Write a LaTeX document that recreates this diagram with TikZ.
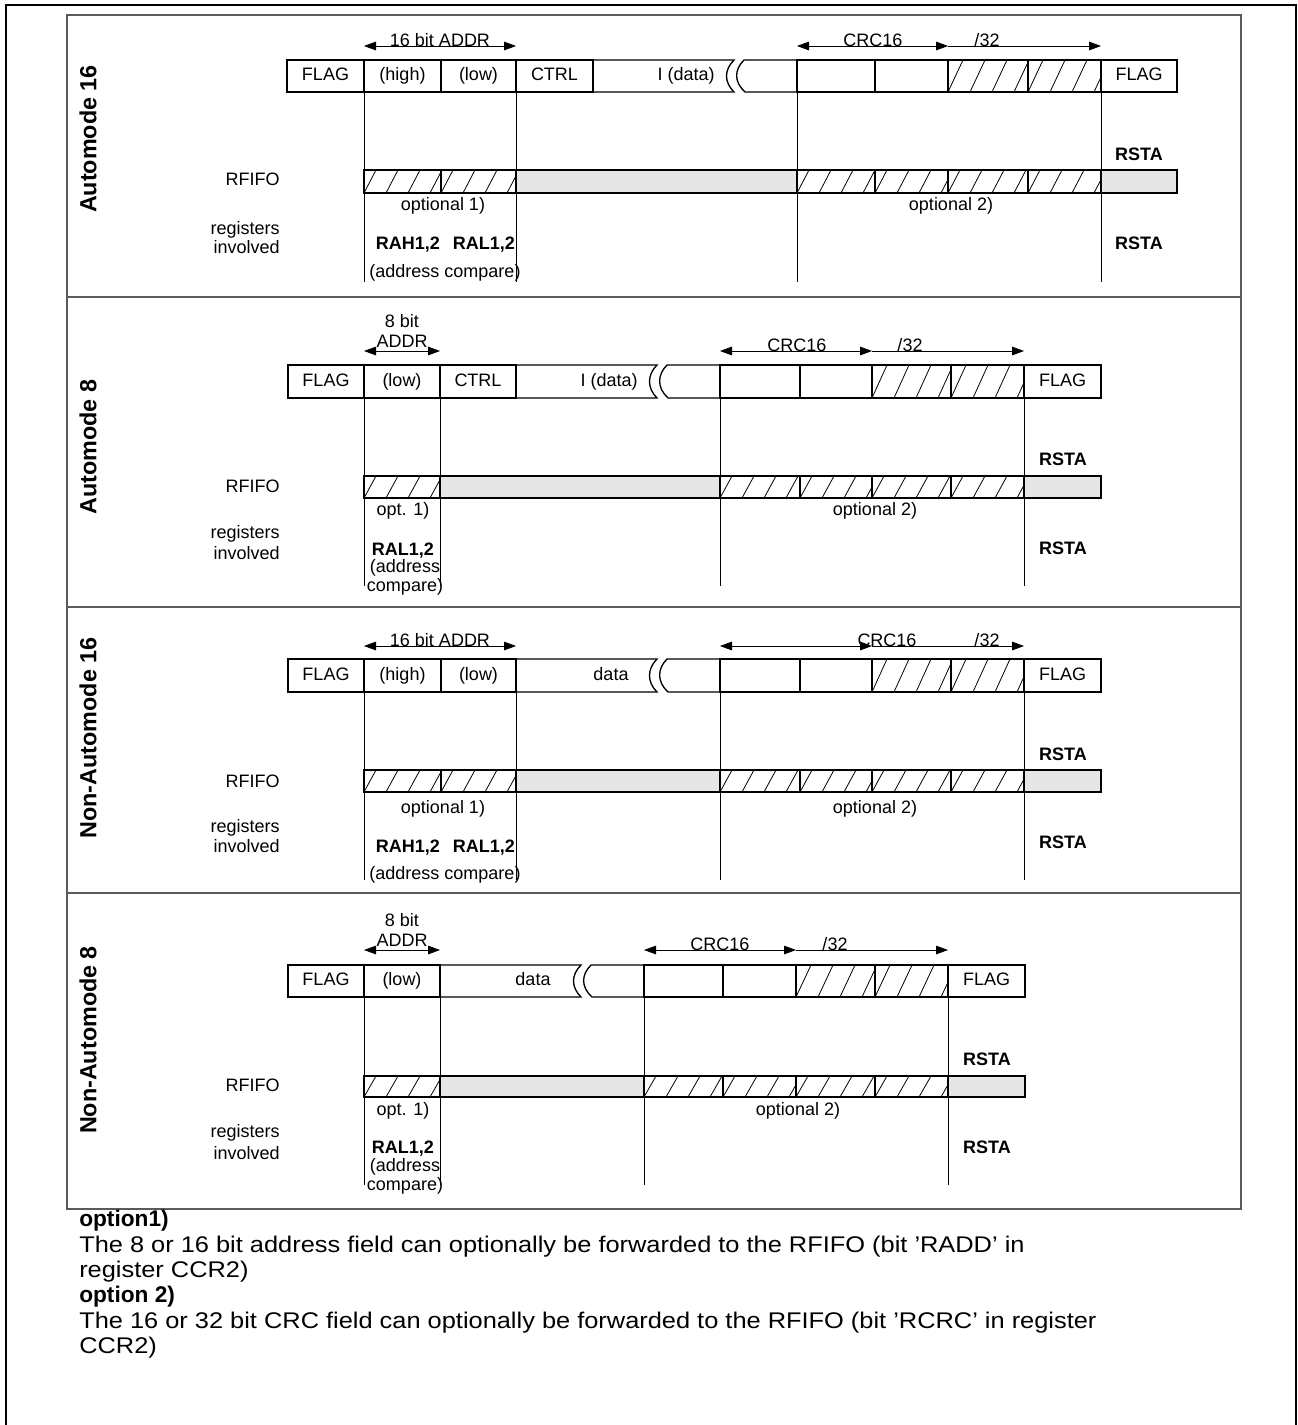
\documentclass[tikz,border=0pt]{standalone}
\usepackage{fontspec}
\setmainfont{Liberation Sans}
\newfontfamily\notefont[FakeStretch=1.12]{Liberation Sans}
\usetikzlibrary{arrows.meta}
\definecolor{barfill}{HTML}{E6E6E6}
\definecolor{sepgray}{HTML}{5A5A5A}
\newcommand{\fs}{\fontsize{13.5pt}{16pt}\selectfont}
\newcommand{\fsb}{\fontsize{17.5pt}{20pt}\selectfont\bfseries}
\newcommand{\fsn}{\fontsize{17pt}{19pt}\selectfont}
\tikzset{
  boxline/.style={line width=1pt},
  guide/.style={line width=0.75pt},
  hatchline/.style={line width=0.6pt},
  dimarrow/.style={line width=0.6pt, arrows={Triangle[length=9pt,width=6.5pt]-Triangle[length=9pt,width=6.5pt]}},
  dimarrowr/.style={line width=0.6pt, arrows={-Triangle[length=9pt,width=6.5pt]}},
  txt/.style={inner sep=0pt, text height=0.716em, text depth=0pt, font=\fs},
  txtb/.style={txt, font=\fs\bfseries},
  lbl/.style={inner sep=0pt, anchor=base, font=\fs},
  side/.style={inner sep=0pt, anchor=east, text height=0.716em, text depth=0pt, font=\fs},
  mode/.style={inner sep=0pt, rotate=90, font=\fsb},
  note/.style={inner sep=0pt, anchor=base west, font=\notefont\fsn},
  notehead/.style={inner sep=0pt, anchor=base west, font=\fsn\bfseries},
}
% hatched cell: x1 ytop x2 ybottom dx
\newcommand{\hatchcell}[5]{%
  \fill[white] (#1,#2) rectangle (#3,#4);
  \begin{scope}
    \clip (#1,#2) rectangle (#3,#4);
    \foreach \k in {0,...,4} {
      \draw[hatchline] ({#1+\k*22},#4) -- ++(#5,{#2-#4});
    }
  \end{scope}
  \draw[boxline] (#1,#2) rectangle (#3,#4);
}
\newcommand{\graycell}[4]{\draw[boxline, fill=barfill] (#1,#2) rectangle (#3,#4);}
\newcommand{\plaincell}[4]{\draw[boxline] (#1,#2) rectangle (#3,#4);}
% break: xl X xr top bottom
\newcommand{\breakrow}[5]{%
  \draw[boxline] (#1,#4) -- (#2,#4) .. controls ({#2-10},{#4+10}) and ({#2-10},{#5-10}) .. (#2,#5) -- (#1,#5);
  \draw[boxline] (#3,#4) -- ({#2+10},#4) .. controls ({#2},{#4+10}) and ({#2},{#5-10}) .. ({#2+11},#5) -- (#3,#5);
}
\begin{document}
\begin{tikzpicture}[x=0.75pt,y=-0.75pt]
\useasboundingbox (0,0) rectangle (1298,1425);
% frames
\draw[line width=1.6pt] (6,1425) -- (6,5) -- (1296,5) -- (1296,1425);
\draw[line width=1pt, sepgray] (67,15) rectangle (1241,1209);
\foreach \yy in {297,607,893} \draw[line width=1pt, sepgray] (67,\yy) -- (1241,\yy);

% ================= Panel 1: Automode 16
\node[mode] (m1) at (88,139) {Automode 16};
\foreach \xx in {364,516,797,1101} \draw[guide] (\xx,92) -- (\xx,282);
\plaincell{287}{60}{364}{92}
\plaincell{364}{60}{441}{92}
\plaincell{441}{60}{516}{92}
\plaincell{516}{60}{593}{92}
\breakrow{593}{734}{797}{60}{92}
\plaincell{797}{60}{875}{92}
\plaincell{875}{60}{948}{92}
\hatchcell{948}{60}{1028}{92}{15}
\hatchcell{1028}{60}{1101}{92}{15}
\plaincell{1101}{60}{1177}{92}
\node[txt] (p1flag) at (325.5,76) {FLAG};
\node[txt] (p1high) at (402.5,76) {(high)};
\node[txt] (p1low) at (478.5,76) {(low)};
\node[txt] (p1ctrl) at (554.5,76) {CTRL};
\node[txt, anchor=east] (p1data) at (715,76) {I (data)};
\node[txt] (p1flag2) at (1139,76) {FLAG};
\hatchcell{364}{170}{441}{193}{12}
\hatchcell{441}{170}{516}{193}{12}
\graycell{516}{170}{797}{193}
\hatchcell{797}{170}{875}{193}{12}
\hatchcell{875}{170}{948}{193}{12}
\hatchcell{948}{170}{1028}{193}{12}
\hatchcell{1028}{170}{1101}{193}{12}
\graycell{1101}{170}{1177}{193}
\coordinate (p1a) at (364,46); \coordinate (p1b) at (516,46);
\coordinate (p1c) at (797,46); \coordinate (p1d) at (948,46); \coordinate (p1e) at (1101,46);
\draw[dimarrow] (p1a) -- (p1b);
\draw[dimarrow] (p1c) -- (p1d);
\draw[dimarrowr] (p1d) -- (p1e);
\node[lbl] (p1addr) at (440,46) {16 bit ADDR};
\node[lbl] (p1crc) at (873,46) {CRC16};
\node[lbl] (p1c32) at (987,46) {/32};
\node[side] (p1rfifo) at (280,181) {RFIFO};
\node[side] (p1reg) at (280,230) {registers};
\node[side] (p1inv) at (280,249) {involved};
\node[txtb] (p1rsta) at (1139,156) {RSTA};
\node[txtb] (p1rsta2) at (1139,245) {RSTA};
\node[txt] (p1o1) at (443,206) {optional 1)};
\node[txt] (p1o2) at (951,206) {optional 2)};
\node[txtb] (p1rah) at (408,245) {RAH1,2};
\node[txtb] (p1ral) at (484,245) {RAL1,2};
\node[txt] (p1ac) at (445,273) {(address compare)};

% ================= Panel 2: Automode 8
\node[mode] (m2) at (88,447) {Automode 8};
\foreach \xx in {364,440,720,1024} \draw[guide] (\xx,398) -- (\xx,586);
\plaincell{288}{365}{364}{398}
\plaincell{364}{365}{440}{398}
\plaincell{440}{365}{516}{398}
\breakrow{516}{657}{720}{365}{398}
\plaincell{720}{365}{800}{398}
\plaincell{800}{365}{872}{398}
\hatchcell{872}{365}{951}{398}{15}
\hatchcell{951}{365}{1024}{398}{15}
\plaincell{1024}{365}{1101}{398}
\node[txt] (p2flag) at (326,381.5) {FLAG};
\node[txt] (p2low) at (402,381.5) {(low)};
\node[txt] (p2ctrl) at (478,381.5) {CTRL};
\node[txt, anchor=east] (p2data) at (638,381.5) {I (data)};
\node[txt] (p2flag2) at (1062.5,381.5) {FLAG};
\hatchcell{364}{476}{440}{498}{12}
\graycell{440}{476}{720}{498}
\hatchcell{720}{476}{800}{498}{12}
\hatchcell{800}{476}{872}{498}{12}
\hatchcell{872}{476}{951}{498}{12}
\hatchcell{951}{476}{1024}{498}{12}
\graycell{1024}{476}{1101}{498}
\coordinate (p2a) at (364,351); \coordinate (p2b) at (440,351);
\coordinate (p2c) at (720,351); \coordinate (p2d) at (872,351); \coordinate (p2e) at (1024,351);
\draw[dimarrow] (p2a) -- (p2b);
\draw[dimarrow] (p2c) -- (p2d);
\draw[dimarrowr] (p2d) -- (p2e);
\node[lbl] (p2bit) at (402,327) {8 bit};
\node[lbl] (p2addr) at (402,347) {ADDR};
\node[lbl] (p2crc) at (797,351) {CRC16};
\node[lbl] (p2c32) at (910,351) {/32};
\node[side] (p2rfifo) at (280,488) {RFIFO};
\node[side] (p2reg) at (280,534) {registers};
\node[side] (p2inv) at (280,555) {involved};
\node[txtb] (p2rsta) at (1063,461) {RSTA};
\node[txtb] (p2rsta2) at (1063,550) {RSTA};
\node[txt] (p2o1) at (403,511) {opt. 1)};
\node[txt] (p2o2) at (875,511) {optional 2)};
\node[txtb] (p2ral) at (403,551) {RAL1,2};
\node[txt] (p2ad) at (405,568) {(address};
\node[txt] (p2cmp) at (405,587) {compare)};

% ================= Panel 3: Non-Automode 16
\node[mode] (m3) at (88,738) {Non-Automode 16};
\foreach \xx in {364,516,720,1024} \draw[guide] (\xx,692) -- (\xx,880);
\plaincell{288}{659}{364}{692}
\plaincell{364}{659}{441}{692}
\plaincell{441}{659}{516}{692}
\breakrow{516}{657}{720}{659}{692}
\plaincell{720}{659}{800}{692}
\plaincell{800}{659}{872}{692}
\hatchcell{872}{659}{951}{692}{15}
\hatchcell{951}{659}{1024}{692}{15}
\plaincell{1024}{659}{1101}{692}
\node[txt] (p3flag) at (326,675.5) {FLAG};
\node[txt] (p3high) at (402.5,675.5) {(high)};
\node[txt] (p3low) at (478.5,675.5) {(low)};
\node[txt] (p3data) at (611,675.5) {data};
\node[txt] (p3flag2) at (1062.5,675.5) {FLAG};
\hatchcell{364}{770}{441}{792}{12}
\hatchcell{441}{770}{516}{792}{12}
\graycell{516}{770}{720}{792}
\hatchcell{720}{770}{800}{792}{12}
\hatchcell{800}{770}{872}{792}{12}
\hatchcell{872}{770}{951}{792}{12}
\hatchcell{951}{770}{1024}{792}{12}
\graycell{1024}{770}{1101}{792}
\coordinate (p3a) at (364,646); \coordinate (p3b) at (516,646);
\coordinate (p3c) at (720,646); \coordinate (p3d) at (872,646); \coordinate (p3e) at (1024,646);
\draw[dimarrow] (p3a) -- (p3b);
\draw[dimarrow] (p3c) -- (p3d);
\draw[dimarrowr] (p3d) -- (p3e);
\node[lbl] (p3addr) at (440,646) {16 bit ADDR};
\node[lbl] (p3crc) at (887,646) {CRC16};
\node[lbl] (p3c32) at (987,646) {/32};
\node[side] (p3rfifo) at (280,783) {RFIFO};
\node[side] (p3reg) at (280,828) {registers};
\node[side] (p3inv) at (280,848) {involved};
\node[txtb] (p3rsta) at (1063,756) {RSTA};
\node[txtb] (p3rsta2) at (1063,844) {RSTA};
\node[txt] (p3o1) at (443,809) {optional 1)};
\node[txt] (p3o2) at (875,809) {optional 2)};
\node[txtb] (p3rah) at (408,848) {RAH1,2};
\node[txtb] (p3ral) at (484,848) {RAL1,2};
\node[txt] (p3ac) at (445,875) {(address compare)};

% ================= Panel 4: Non-Automode 8
\node[mode] (m4) at (88,1040) {Non-Automode 8};
\foreach \xx in {364,440,644,948} \draw[guide] (\xx,997) -- (\xx,1185);
\plaincell{288}{965}{364}{997}
\plaincell{364}{965}{440}{997}
\breakrow{440}{581}{644}{965}{997}
\plaincell{644}{965}{723}{997}
\plaincell{723}{965}{796}{997}
\hatchcell{796}{965}{875}{997}{15}
\hatchcell{875}{965}{948}{997}{15}
\plaincell{948}{965}{1025}{997}
\node[txt] (p4flag) at (326,981) {FLAG};
\node[txt] (p4low) at (402,981) {(low)};
\node[txt] (p4data) at (533,981) {data};
\node[txt] (p4flag2) at (986.5,981) {FLAG};
\hatchcell{364}{1076}{440}{1097}{12}
\graycell{440}{1076}{644}{1097}
\hatchcell{644}{1076}{723}{1097}{12}
\hatchcell{723}{1076}{796}{1097}{12}
\hatchcell{796}{1076}{875}{1097}{12}
\hatchcell{875}{1076}{948}{1097}{12}
\graycell{948}{1076}{1025}{1097}
\coordinate (p4a) at (364,950); \coordinate (p4b) at (440,950);
\coordinate (p4c) at (644,950); \coordinate (p4d) at (796,950); \coordinate (p4e) at (948,950);
\draw[dimarrow] (p4a) -- (p4b);
\draw[dimarrow] (p4c) -- (p4d);
\draw[dimarrowr] (p4d) -- (p4e);
\node[lbl] (p4bit) at (402,926) {8 bit};
\node[lbl] (p4addr) at (402,946) {ADDR};
\node[lbl] (p4crc) at (720,950) {CRC16};
\node[lbl] (p4c32) at (835,950) {/32};
\node[side] (p4rfifo) at (280,1087) {RFIFO};
\node[side] (p4reg) at (280,1133) {registers};
\node[side] (p4inv) at (280,1155) {involved};
\node[txtb] (p4rsta) at (987,1061) {RSTA};
\node[txtb] (p4rsta2) at (987,1149) {RSTA};
\node[txt] (p4o1) at (403,1111) {opt. 1)};
\node[txt] (p4o2) at (798,1111) {optional 2)};
\node[txtb] (p4ral) at (403,1149) {RAL1,2};
\node[txt] (p4ad) at (405,1167) {(address};
\node[txt] (p4cmp) at (405,1186) {compare)};

% ================= Notes
\node[notehead] (n1) at (79,1226) {option1)};
\node[note] (n2) at (79,1252) {The 8 or 16 bit address field can optionally be forwarded to the RFIFO (bit ’RADD’ in};
\node[note] (n3) at (79,1277) {register CCR2)};
\node[notehead] (n4) at (79,1302) {option 2)};
\node[note] (n5) at (79,1328) {The 16 or 32 bit CRC field can optionally be forwarded to the RFIFO (bit ’RCRC’ in register};
\node[note] (n6) at (79,1353) {CCR2)};
\end{tikzpicture}
\end{document}
